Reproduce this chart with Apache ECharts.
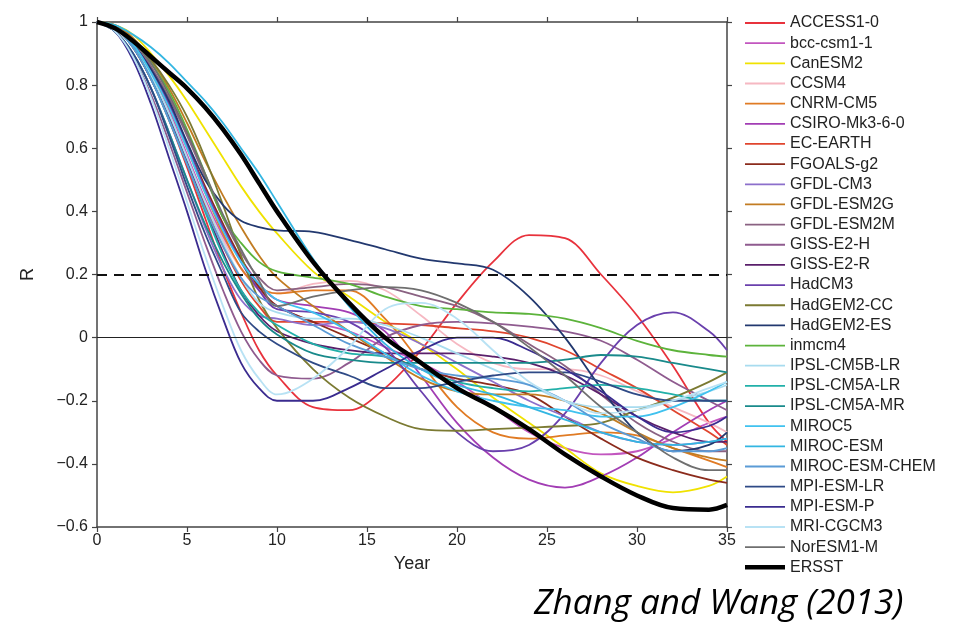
<!DOCTYPE html>
<html>
<head>
<meta charset="utf-8">
<script src="https://cdn.jsdelivr.net/npm/echarts@6/dist/echarts.min.js"></script>
<style>
  html, body { margin: 0; padding: 0; background: #fff; }
  #main { width: 965px; height: 628px; }
</style>
</head>
<body>
<div id="main"></div>
<script>
// lag years (x axis)
var years = [0, 1, 2, 3, 4, 5, 6, 7, 8, 9, 10, 12, 14, 16, 18, 20, 22, 24, 26, 28, 30, 32, 34, 35];

// autocorrelation R per model
var access10   = [1, 0.98, 0.92, 0.82, 0.69, 0.54, 0.38, 0.22, 0.08, -0.04, -0.12, -0.22, -0.23, -0.16, -0.04, 0.11, 0.24, 0.325, 0.315, 0.2, 0.07, -0.09, -0.27, -0.33];
var bccCsm11   = [1, 0.98, 0.93, 0.84, 0.72, 0.58, 0.44, 0.32, 0.22, 0.15, 0.1, 0.05, 0.02, -0.03, -0.08, -0.14, -0.22, -0.3, -0.35, -0.37, -0.36, -0.32, -0.27, -0.25];
var canESM2    = [1, 0.99, 0.96, 0.9, 0.83, 0.75, 0.66, 0.57, 0.48, 0.4, 0.33, 0.21, 0.13, 0.05, -0.02, -0.1, -0.19, -0.27, -0.35, -0.43, -0.47, -0.49, -0.47, -0.44];
var ccsm4      = [1, 0.98, 0.92, 0.83, 0.71, 0.57, 0.43, 0.31, 0.22, 0.16, 0.14, 0.17, 0.18, 0.15, 0.07, -0.02, -0.08, -0.1, -0.1, -0.12, -0.17, -0.22, -0.27, -0.3];
var cnrmCM5    = [1, 0.98, 0.93, 0.84, 0.73, 0.6, 0.46, 0.33, 0.22, 0.16, 0.14, 0.15, 0.15, 0.06, -0.08, -0.22, -0.3, -0.32, -0.31, -0.3, -0.31, -0.35, -0.39, -0.41];
var csiroMk3   = [1, 0.98, 0.93, 0.85, 0.74, 0.61, 0.47, 0.35, 0.25, 0.17, 0.12, 0.1, 0.08, 0.02, -0.12, -0.27, -0.38, -0.45, -0.475, -0.44, -0.38, -0.3, -0.23, -0.2];
var ecEarth    = [1, 0.98, 0.92, 0.82, 0.7, 0.56, 0.42, 0.29, 0.18, 0.1, 0.05, 0.05, 0.05, 0.045, 0.04, 0.03, 0.02, 0, -0.04, -0.1, -0.16, -0.23, -0.3, -0.34];
var fgoalsG2   = [1, 0.98, 0.93, 0.85, 0.74, 0.61, 0.48, 0.36, 0.25, 0.16, 0.1, 0.05, 0, -0.05, -0.1, -0.13, -0.15, -0.18, -0.25, -0.32, -0.38, -0.42, -0.45, -0.46];
var gfdlCM3    = [1, 0.97, 0.9, 0.79, 0.65, 0.5, 0.35, 0.22, 0.12, 0.07, 0.06, 0.04, 0.05, 0.03, -0.02, -0.08, -0.14, -0.2, -0.25, -0.3, -0.33, -0.34, -0.33, -0.32];
var gfdlESM2G  = [1, 0.99, 0.95, 0.88, 0.79, 0.68, 0.56, 0.45, 0.35, 0.26, 0.19, 0.1, 0.02, -0.06, -0.13, -0.17, -0.18, -0.18, -0.2, -0.24, -0.3, -0.35, -0.38, -0.39];
var gfdlESM2M  = [1, 0.98, 0.94, 0.86, 0.76, 0.64, 0.51, 0.38, 0.27, 0.19, 0.15, 0.16, 0.17, 0.16, 0.13, 0.1, 0.05, -0.02, -0.09, -0.18, -0.27, -0.33, -0.36, -0.36];
var gissE2H    = [1, 0.97, 0.89, 0.77, 0.62, 0.46, 0.3, 0.15, 0.02, -0.07, -0.12, -0.13, -0.08, 0, 0.04, 0.05, 0.045, 0.035, 0.02, -0.01, -0.07, -0.14, -0.2, -0.23];
var gissE2R    = [1, 0.98, 0.92, 0.82, 0.7, 0.56, 0.41, 0.27, 0.15, 0.07, 0.02, -0.02, -0.04, -0.05, -0.05, -0.05, -0.06, -0.08, -0.12, -0.18, -0.25, -0.3, -0.33, -0.33];
var hadCM3     = [1, 0.98, 0.93, 0.85, 0.74, 0.61, 0.47, 0.35, 0.24, 0.15, 0.09, 0.08, 0.05, -0.03, -0.17, -0.3, -0.36, -0.34, -0.24, -0.08, 0.04, 0.08, 0.02, -0.04];
var hadGEM2CC  = [1, 0.98, 0.94, 0.88, 0.8, 0.7, 0.57, 0.42, 0.26, 0.12, 0.03, -0.1, -0.19, -0.25, -0.29, -0.295, -0.29, -0.285, -0.28, -0.27, -0.23, -0.19, -0.14, -0.11];
var hadGEM2ES  = [1, 0.98, 0.93, 0.85, 0.75, 0.62, 0.5, 0.42, 0.37, 0.35, 0.34, 0.335, 0.31, 0.28, 0.25, 0.235, 0.215, 0.13, 0, -0.16, -0.3, -0.36, -0.34, -0.3];
var inmcm4     = [1, 0.98, 0.94, 0.87, 0.78, 0.66, 0.52, 0.38, 0.3, 0.24, 0.21, 0.19, 0.17, 0.13, 0.1, 0.09, 0.08, 0.075, 0.06, 0.03, -0.01, -0.04, -0.055, -0.06];
var ipslCM5BLR = [1, 0.98, 0.92, 0.83, 0.71, 0.57, 0.43, 0.3, 0.19, 0.11, 0.08, 0.06, 0.06, 0.04, 0, -0.05, -0.1, -0.15, -0.2, -0.22, -0.22, -0.2, -0.17, -0.15];
var ipslCM5ALR = [1, 0.98, 0.92, 0.82, 0.69, 0.55, 0.4, 0.26, 0.15, 0.08, 0.04, -0.02, -0.05, -0.06, -0.1, -0.14, -0.16, -0.17, -0.16, -0.15, -0.16, -0.18, -0.2, -0.2];
var ipslCM5AMR = [1, 0.97, 0.9, 0.79, 0.65, 0.5, 0.36, 0.24, 0.14, 0.06, 0.01, -0.05, -0.07, -0.08, -0.08, -0.08, -0.08, -0.08, -0.07, -0.055, -0.06, -0.08, -0.1, -0.11];
var miroc5     = [1, 0.98, 0.93, 0.84, 0.73, 0.6, 0.46, 0.34, 0.24, 0.17, 0.12, 0.08, 0.02, -0.05, -0.12, -0.17, -0.2, -0.22, -0.23, -0.25, -0.25, -0.22, -0.17, -0.14];
var mirocESM   = [1, 0.99, 0.96, 0.92, 0.87, 0.81, 0.75, 0.68, 0.6, 0.52, 0.43, 0.25, 0.1, -0.02, -0.1, -0.15, -0.18, -0.22, -0.26, -0.3, -0.33, -0.34, -0.33, -0.32];
var mirocESMCh = [1, 0.98, 0.92, 0.82, 0.69, 0.55, 0.41, 0.29, 0.19, 0.13, 0.1, 0.04, -0.02, -0.06, -0.1, -0.12, -0.13, -0.15, -0.2, -0.27, -0.32, -0.36, -0.36, -0.35];
var mpiESMLR   = [1, 0.97, 0.9, 0.79, 0.64, 0.48, 0.33, 0.2, 0.08, 0.02, -0.02, -0.08, -0.12, -0.16, -0.16, -0.14, -0.12, -0.11, -0.11, -0.14, -0.18, -0.2, -0.2, -0.2];
var mpiESMP    = [1, 0.97, 0.88, 0.74, 0.57, 0.4, 0.22, 0.06, -0.08, -0.16, -0.2, -0.2, -0.16, -0.1, -0.04, 0, 0, -0.04, -0.1, -0.17, -0.25, -0.3, -0.28, -0.25];
var mriCGCM3   = [1, 0.97, 0.89, 0.76, 0.6, 0.43, 0.26, 0.1, -0.04, -0.13, -0.18, -0.13, -0.03, 0.09, 0.11, 0.06, -0.04, -0.14, -0.2, -0.24, -0.23, -0.2, -0.16, -0.14];
var norESM1M   = [1, 0.98, 0.94, 0.87, 0.77, 0.65, 0.52, 0.39, 0.28, 0.18, 0.1, 0.13, 0.15, 0.16, 0.15, 0.11, 0.05, -0.03, -0.12, -0.22, -0.3, -0.38, -0.42, -0.42];
var ersst      = [1, 0.98, 0.94, 0.89, 0.84, 0.79, 0.73, 0.66, 0.58, 0.49, 0.4, 0.24, 0.11, 0, -0.08, -0.16, -0.22, -0.29, -0.37, -0.44, -0.5, -0.54, -0.545, -0.53];

var modelNames = ['ACCESS1-0', 'bcc-csm1-1', 'CanESM2', 'CCSM4', 'CNRM-CM5', 'CSIRO-Mk3-6-0', 'EC-EARTH',
  'FGOALS-g2', 'GFDL-CM3', 'GFDL-ESM2G', 'GFDL-ESM2M', 'GISS-E2-H', 'GISS-E2-R', 'HadCM3', 'HadGEM2-CC',
  'HadGEM2-ES', 'inmcm4', 'IPSL-CM5B-LR', 'IPSL-CM5A-LR', 'IPSL-CM5A-MR', 'MIROC5', 'MIROC-ESM',
  'MIROC-ESM-CHEM', 'MPI-ESM-LR', 'MPI-ESM-P', 'MRI-CGCM3', 'NorESM1-M', 'ERSST'];
var modelValues = [access10, bccCsm11, canESM2, ccsm4, cnrmCM5, csiroMk3, ecEarth, fgoalsG2, gfdlCM3,
  gfdlESM2G, gfdlESM2M, gissE2H, gissE2R, hadCM3, hadGEM2CC, hadGEM2ES, inmcm4, ipslCM5BLR, ipslCM5ALR,
  ipslCM5AMR, miroc5, mirocESM, mirocESMCh, mpiESMLR, mpiESMP, mriCGCM3, norESM1M, ersst];

var colors = ['#e8323c', '#c256bf', '#f0e200', '#f6b8c2', '#e07b24', '#a23db4', '#e0452e', '#8b2b1c',
  '#8c6fcb', '#c27c22', '#8a6282', '#8f5b8f', '#5a1f6b', '#6a40ad', '#7b7a32', '#22386f', '#5cb33b',
  '#a8dcef', '#22b0a9', '#198a8b', '#40c2ef', '#33b6e2', '#5b9bd6', '#2f4a86', '#3a2b8f', '#b8e2f4',
  '#6f6f6f', '#000000'];

var myChart = echarts.init(document.getElementById('main'));

// legend keys: thin bar for models, thick bar for observations
var thinKey = 'path://M0,0M40,12M0,5.1h40v1.8h-40z';
var thickKey = 'path://M0,0M40,12M0,3.8h40v4.4h-40z';

var series = [];
var legendData = [];
for (var i = 0; i < modelNames.length; i++) {
  var pts = [];
  for (var j = 0; j < years.length; j++) {
    pts.push([years[j], modelValues[i][j]]);
  }
  var isObs = modelNames[i] == 'ERSST';
  series.push({
    name: modelNames[i],
    type: 'line',
    data: pts,
    smooth: 0.35,
    symbol: 'none',
    z: isObs ? 5 : 3,
    color: colors[i],
    lineStyle: { color: colors[i], width: isObs ? 4.5 : 1.8 }
  });
  legendData.push({ name: modelNames[i], icon: isObs ? thickKey : thinKey });
}

// reference lines at R = 0.2 (dashed) and R = 0
series[series.length - 1].markLine = {
  silent: true,
  symbol: 'none',
  label: { show: false },
  data: [
    { yAxis: 0.2, lineStyle: { color: '#111', type: [10, 7], width: 2.2 } },
    { yAxis: 0, lineStyle: { color: '#222', type: 'solid', width: 1 } }
  ]
};

var axisLine = { onZero: false, lineStyle: { color: '#444', width: 1.5 } };
var tickOut = { inside: false, length: 5, lineStyle: { color: '#444', width: 1.2 } };

var option = {
  animation: false,
  backgroundColor: '#fff',
  grid: { left: 97, top: 22, right: 238, bottom: 101 },
  legend: {
    orient: 'vertical',
    left: 740,
    top: 10,
    itemWidth: 40,
    itemHeight: 12,
    itemGap: 4.16,
    selectedMode: false,
    textStyle: { fontFamily: 'Liberation Sans', fontSize: 16, lineHeight: 16, color: '#222' },
    data: legendData
  },
  xAxis: [
    {
      type: 'value', min: 0, max: 35, interval: 5,
      name: 'Year', nameLocation: 'middle', nameGap: 28,
      nameTextStyle: { fontFamily: 'Liberation Sans', fontSize: 18, color: '#222' },
      axisLine: axisLine, axisTick: tickOut,
      axisLabel: { fontFamily: 'Liberation Sans', fontSize: 16, color: '#222', margin: 6 },
      splitLine: { show: false }
    },
    {
      type: 'value', min: 0, max: 35, interval: 5, position: 'top',
      axisLine: axisLine, axisTick: tickOut,
      axisLabel: { show: false }, splitLine: { show: false }
    }
  ],
  yAxis: [
    {
      type: 'value', min: -0.6, max: 1, interval: 0.2,
      name: 'R', nameLocation: 'middle', nameGap: 60,
      nameTextStyle: { fontFamily: 'Liberation Sans', fontSize: 18, color: '#222' },
      axisLine: axisLine, axisTick: tickOut,
      axisLabel: {
        fontFamily: 'Liberation Sans', fontSize: 16, color: '#222', margin: 9,
        formatter: function (v) { return String(Math.round(v * 10) / 10).replace('-', '\u2212'); }
      },
      splitLine: { show: false }
    },
    {
      type: 'value', min: -0.6, max: 1, interval: 0.2, position: 'right',
      axisLine: axisLine, axisTick: tickOut,
      axisLabel: { show: false }, splitLine: { show: false }
    }
  ],
  graphic: [
    {
      type: 'text',
      left: 534,
      top: 587,
      style: {
        text: 'Zhang and Wang (2013)',
        font: 'italic 35px "Open Sans"',
        fill: '#000'
      }
    }
  ],
  series: series
};

myChart.setOption(option);
</script>
</body>
</html>
